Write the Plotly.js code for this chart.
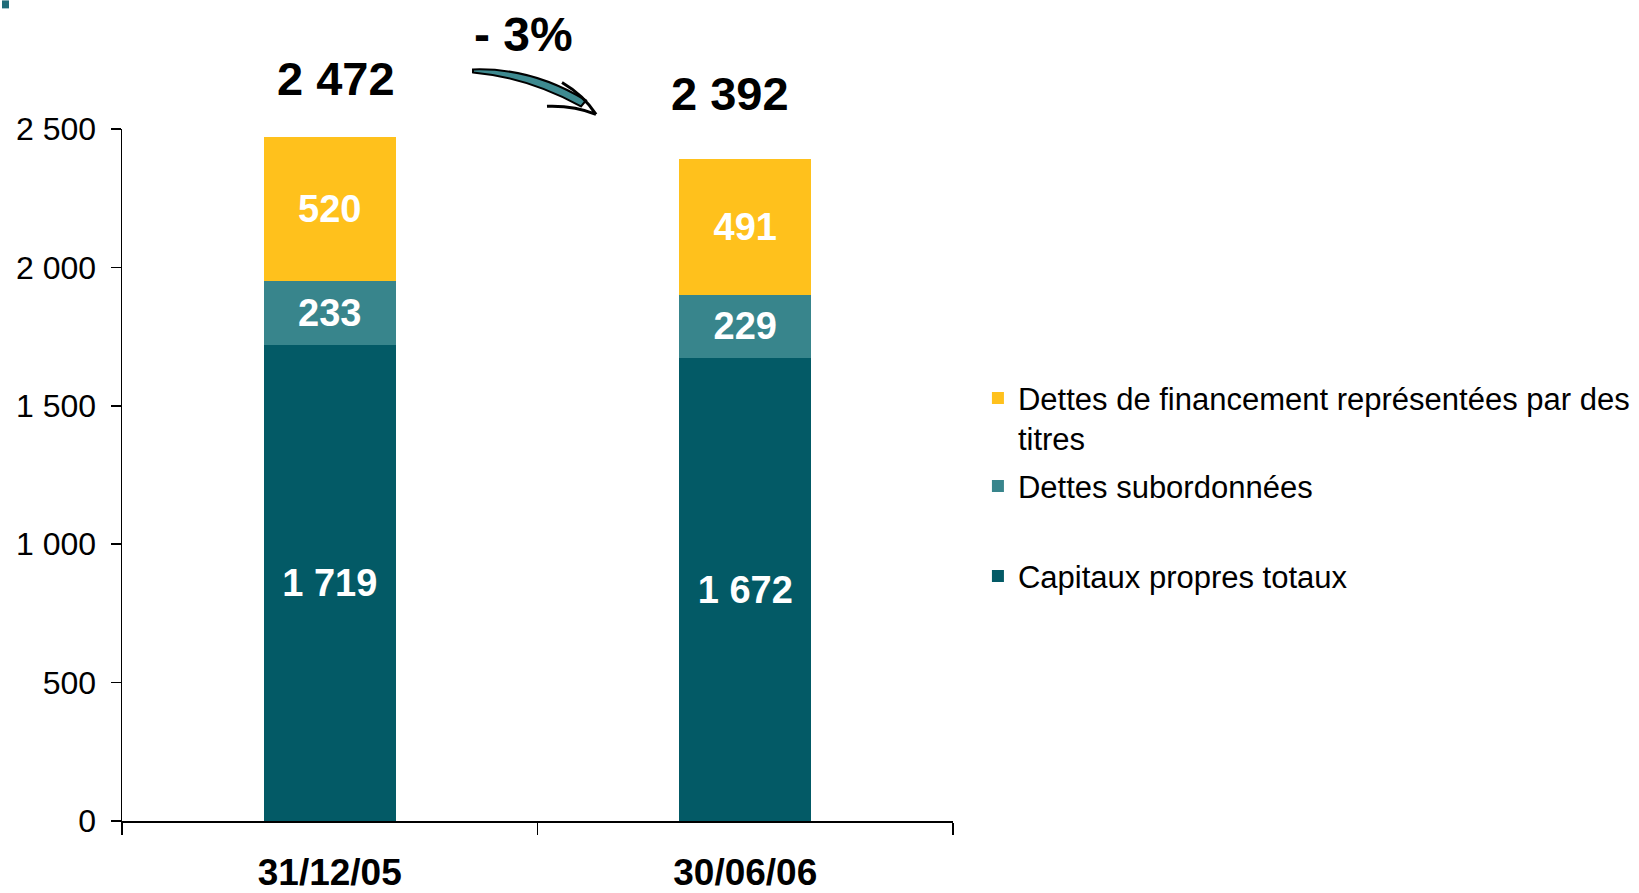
<!DOCTYPE html>
<html>
<head>
<meta charset="utf-8">
<script src="https://cdn.plot.ly/plotly-3.0.1.min.js"></script>
<style>html,body{margin:0;padding:0;background:#fff;}#chart{width:1639px;height:893px;}</style>
</head>
<body>
<div id="chart"></div>
<script>
// ---- data ----
const categories = ["31/12/05", "30/06/06"];
const capitauxPropres = [1719, 1672];
const dettesSubordonnees = [233, 229];
const dettesFinancement = [520, 491];
const seriesNames = [
  "Capitaux propres totaux",
  "Dettes subordonnées",
  "Dettes de financement représentées par des<br>titres"
];
const yTicks = [0, 500, 1000, 1500, 2000, 2500];

const totals = categories.map((c, i) => capitauxPropres[i] + dettesSubordonnees[i] + dettesFinancement[i]);
const fmt = v => String(v).replace(/\B(?=(\d{3})+(?!\d))/g, " ");
const change = Math.round((totals[1] - totals[0]) / totals[0] * 100);
const changeText = (change < 0 ? "- " : "+ ") + Math.abs(change) + "%";

// ---- layout geometry ----
const W = 1639, H = 893;
const M = {l: 122, r: 686, t: 128.6, b: 72.4, autoexpand: false};
const PW = W - M.l - M.r, PH = H - M.t - M.b;
const px = x => ((x - M.l) / PW).toFixed(4);
const py = y => ((H - M.b - y) / PH).toFixed(4);

const FONT = "Liberation Sans, Arial, Helvetica, sans-serif";
const cDark = "#035a66", cMid = "#38858c", cYellow = "#ffc11c";

function barTrace(name, vals, color, legend) {
  return {
    type: "bar", name: name, x: categories, y: vals,
    marker: {color: color, line: {width: 0}},
    text: vals.map(fmt), textposition: "inside", insidetextanchor: "middle",
    textangle: 0, constraintext: "none",
    textfont: {family: FONT, size: 38, color: "#ffffff", weight: "bold"},
    hoverinfo: "skip", legend: legend
  };
}

const data = [
  barTrace(seriesNames[0], capitauxPropres, cDark, "legend3"),
  barTrace(seriesNames[1], dettesSubordonnees, cMid, "legend2"),
  barTrace(seriesNames[2], dettesFinancement, cYellow, "legend")
];

const legendBase = {x: 1.03, xanchor: "left", bgcolor: "rgba(0,0,0,0)",
  font: {family: FONT, size: 31, color: "#000"}, itemclick: false, itemdoubleclick: false};

const layout = {
  width: W, height: H,
  margin: M,
  paper_bgcolor: "#fff", plot_bgcolor: "#fff",
  separators: ", ",
  barmode: "stack", bargap: 0.682,
  font: {family: FONT, color: "#000"},
  showlegend: true,
  legend: Object.assign({}, legendBase, {y: py(371), yanchor: "top", valign: "top"}),
  legend2: Object.assign({}, legendBase, {y: py(486), yanchor: "middle"}),
  legend3: Object.assign({}, legendBase, {y: py(576), yanchor: "middle"}),
  xaxis: {
    type: "category", tickson: "boundaries", ticks: "outside", ticklen: 12, tickwidth: 1.5,
    tickcolor: "#000", showline: true, linecolor: "#000", linewidth: 1.5,
    showgrid: false, zeroline: false, fixedrange: true,
    tickfont: {family: FONT, size: 37, color: "#000", weight: "bold"},
    ticklabelstandoff: 18, automargin: false
  },
  yaxis: {
    range: [0, 2500], tickvals: yTicks, ticktext: yTicks.map(fmt),
    ticks: "outside", ticklen: 10, tickwidth: 1.5, tickcolor: "#000",
    showline: true, linecolor: "#000", linewidth: 1.5,
    showgrid: false, zeroline: false, fixedrange: true,
    tickfont: {family: FONT, size: 32, color: "#000"},
    ticklabelstandoff: 8, automargin: false
  },
  annotations: [
    {x: categories[0], y: totals[0], xref: "x", yref: "y", text: fmt(totals[0]), showarrow: false,
     yanchor: "bottom", yshift: 30, xshift: 6, font: {family: FONT, size: 47, color: "#000", weight: "bold"}},
    {x: categories[1], y: totals[1], xref: "x", yref: "y", text: fmt(totals[1]), showarrow: false,
     yanchor: "bottom", yshift: 37, xshift: -15, font: {family: FONT, size: 47, color: "#000", weight: "bold"}},
    {x: px(523), y: py(34), xref: "paper", yref: "paper", text: changeText, showarrow: false,
     xanchor: "center", yanchor: "middle", font: {family: FONT, size: 48, color: "#000", weight: "bold"}}
  ],
  shapes: [
    // small corner mark
    {type: "rect", xref: "paper", yref: "paper", x0: px(2), x1: px(9), y0: py(0), y1: py(8),
     fillcolor: "#1f6b78", line: {width: 0}},
    // curved arrow body
    {type: "path", xref: "paper", yref: "paper",
     path: `M${px(473)},${py(69)} Q${px(532)},${py(67)} ${px(586)},${py(100)} L${px(581)},${py(106)} Q${px(528)},${py(77)} ${px(473)},${py(72)} Z`,
     fillcolor: "#3e8a90", line: {color: "#000", width: 2}},
    // arrow head
    {type: "path", xref: "paper", yref: "paper",
     path: `M${px(562)},${py(82)} Q${px(584)},${py(95)} ${px(596)},${py(114)} M${px(547)},${py(106)} Q${px(574)},${py(105)} ${px(596)},${py(114)}`,
     fillcolor: "rgba(0,0,0,0)", line: {color: "#000", width: 3}}
  ]
};

Plotly.newPlot("chart", data, layout, {displayModeBar: false, staticPlot: true});
</script>
</body>
</html>
